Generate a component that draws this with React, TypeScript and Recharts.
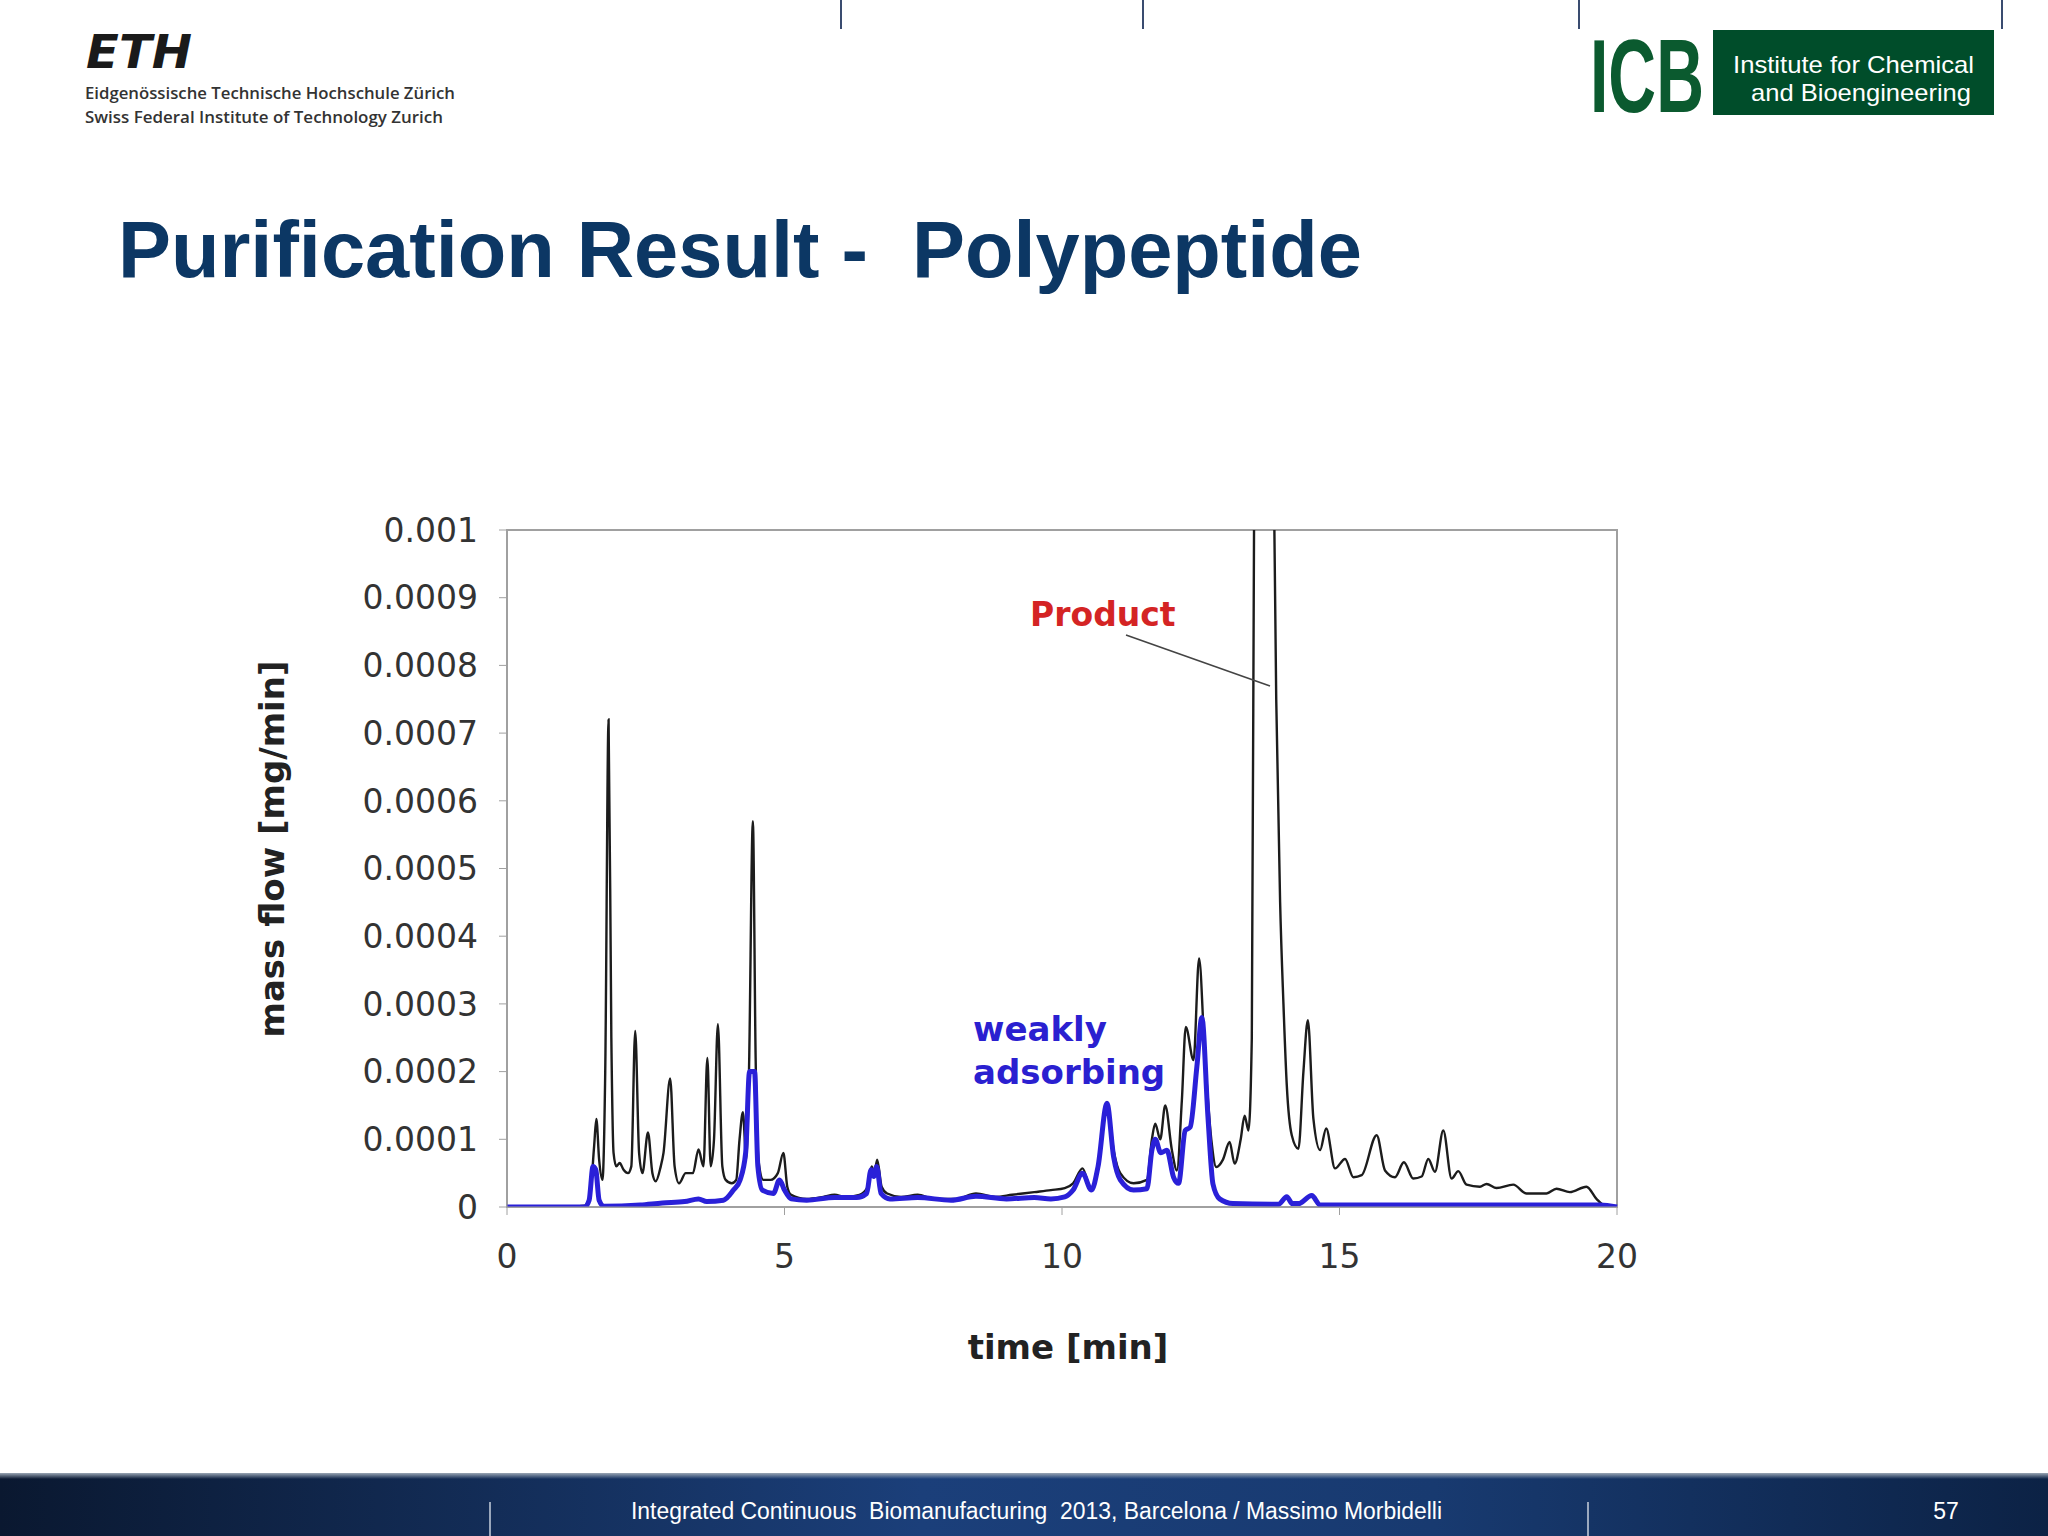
import React from "react";
import {
  LineChart,
  Line,
  XAxis,
  YAxis,
  ReferenceArea,
} from "recharts";

// total mass flow (black trace)
const productTime = [
  0, 1.0, 1.4, 1.5, 1.57, 1.61, 1.66, 1.72, 1.77, 1.83, 1.88, 1.92, 1.97, 2.03, 2.1, 2.18, 2.24, 2.31,
  2.38, 2.44, 2.54, 2.62, 2.68, 2.77, 2.82, 2.94, 3.02, 3.1, 3.22, 3.35, 3.45, 3.54, 3.61, 3.67, 3.73,
  3.8, 3.88, 3.94, 4.05, 4.13, 4.19, 4.25, 4.31, 4.36, 4.43, 4.48, 4.53, 4.62, 4.75, 4.88, 4.98, 5.05,
  5.12, 5.4, 5.7, 5.9, 6.1, 6.35, 6.5, 6.57, 6.62, 6.67, 6.75, 6.85, 7.1, 7.4, 7.7, 8.1, 8.45, 8.8,
  9.1, 9.5, 9.8, 10.05, 10.2, 10.37, 10.52, 10.65, 10.81, 10.93, 11.05, 11.29, 11.53, 11.62, 11.68,
  11.77, 11.86, 11.98, 12.07, 12.16, 12.23, 12.37, 12.47, 12.57, 12.69, 12.78, 12.9, 13.02, 13.11,
  13.22, 13.29, 13.36, 13.42, 13.47, 13.6, 13.8, 13.86, 13.93, 13.99, 14.05, 14.14, 14.26, 14.35,
  14.43, 14.53, 14.65, 14.76, 14.92, 15.1, 15.25, 15.4, 15.67, 15.82, 16.0, 16.16, 16.33, 16.48, 16.6,
  16.72, 16.87, 17.02, 17.14, 17.29, 17.53, 17.65, 17.83, 18.13, 18.37, 18.73, 18.91, 19.15, 19.45,
  19.63, 19.78, 20.0,
];
const productFlow = [
  0, 0, 0.000002, 0.00002, 0.00009, 0.00013, 0.00007, 0.00004, 0.0002, 0.00072, 0.00025, 0.00008,
  0.00006, 0.000065, 0.000055, 0.00005, 0.00006, 0.00026, 0.00008, 0.00005, 0.00011, 0.00005,
  0.000038, 0.00006, 0.00008, 0.00019, 0.00006, 0.000035, 0.00005, 0.00005, 0.000085, 0.00006,
  0.00022, 0.00006, 0.0001, 0.00027, 0.00006, 0.00004, 0.000035, 0.00004, 0.0001, 0.00014, 0.00007,
  0.0002, 0.00057, 0.00022, 0.00007, 0.00004, 0.00004, 0.00005, 0.00008, 0.00003, 0.000018,
  0.000012, 0.000015, 0.000018, 0.000015, 0.000018, 0.00003, 0.00006, 0.00005, 0.00007, 0.00003,
  0.00002, 0.000015, 0.000018, 0.000012, 0.000012, 0.00002, 0.000015, 0.000018, 0.000022, 0.000025,
  0.000028, 0.000035, 0.000057, 0.000027, 0.00006, 0.000155, 0.000084, 0.00005, 0.000035, 0.00004,
  0.0001, 0.000123, 0.0001, 0.00015, 0.000084, 0.000054, 0.000158, 0.000266, 0.000217, 0.000367,
  0.00023, 0.0001, 0.000059, 0.00007, 0.000096, 0.000064, 0.0001, 0.000135, 0.000113, 0.00025,
  0.0012, 0.0018, 0.0012, 0.00075, 0.00045, 0.0003, 0.00018, 0.000106, 0.000086, 0.0002, 0.000276,
  0.00013, 0.000084, 0.000116, 0.000057, 0.000071, 0.000044, 0.000047, 0.000106, 0.000054, 0.000044,
  0.000066, 0.000042, 0.000045, 0.000071, 0.000052, 0.000113, 0.000042, 0.000053, 0.000033, 0.00003,
  0.000034, 0.000028, 0.000033, 0.00002, 0.00002, 0.000027, 0.000022, 0.00003, 0.000012, 0.000002, 0,
];

// weakly adsorbing fraction (blue trace)
const weakTime = [
  0, 1.4, 1.48, 1.55, 1.6, 1.66, 1.75, 2.4, 2.8, 3.2, 3.45, 3.6, 3.9, 4.08, 4.2, 4.3, 4.37, 4.46, 4.52,
  4.6, 4.8, 4.91, 5.0, 5.12, 5.4, 5.9, 6.3, 6.48, 6.56, 6.61, 6.66, 6.74, 6.9, 7.4, 8.0, 8.45, 9.0, 9.5,
  9.8, 10.05, 10.2, 10.37, 10.53, 10.65, 10.81, 10.93, 11.05, 11.29, 11.53, 11.62, 11.68, 11.78, 11.89,
  12.01, 12.1, 12.22, 12.31, 12.43, 12.52, 12.63, 12.72, 12.84, 13.08, 13.9, 14.05, 14.15, 14.26, 14.5,
  14.65, 19.7, 20.0,
];
const weakFlow = [
  0, 0, 0.00001, 0.00006, 0.000055, 0.00001, 0.000001, 0.000003, 0.000006, 0.000008, 0.000012,
  0.000008, 0.00001, 0.000025, 0.00004, 0.00008, 0.0002, 0.0002, 0.00006, 0.000025, 0.00002, 0.00004,
  0.000025, 0.000012, 0.00001, 0.000014, 0.000014, 0.00002, 0.000055, 0.000045, 0.00006, 0.00002,
  0.000012, 0.000014, 0.00001, 0.000016, 0.000012, 0.000014, 0.000012, 0.000015, 0.000025, 0.00005,
  0.000025, 0.00006, 0.000153, 0.000074, 0.00004, 0.000025, 0.000027, 0.000084, 0.0001, 0.00008,
  0.000084, 0.000044, 0.000035, 0.000113, 0.000118, 0.000207, 0.00028, 0.000133, 0.000034, 0.000012,
  0.000005, 0.000004, 0.000015, 0.000005, 0.000005, 0.000017, 0.000003, 0.000003, 0,
];

const xTicks = [0, 5, 10, 15, 20];
const yTicks = [0, 0.0001, 0.0002, 0.0003, 0.0004, 0.0005, 0.0006, 0.0007, 0.0008, 0.0009, 0.001];

const productData = productTime.map((t, i) => ({ t, v: productFlow[i] }));
const weakData = weakTime.map((t, i) => ({ t, v: weakFlow[i] }));

const W = 2048;
const H = 1536;
const tickFont = { fontFamily: "DejaVu Sans", fontSize: 33, fill: "#333333" };

function SlideBackground() {
  return (
    <svg width={W} height={H} style={{ position: "absolute", left: 0, top: 0 }}>
      <defs>
        <linearGradient id="foot" x1="0" y1="0" x2="1" y2="0">
          <stop offset="0" stopColor="#0a1830" />
          <stop offset="0.45" stopColor="#1b3f7a" />
          <stop offset="0.7" stopColor="#183a70" />
          <stop offset="1" stopColor="#0c2245" />
        </linearGradient>
        <linearGradient id="footTop" x1="0" y1="0" x2="0" y2="1">
          <stop offset="0" stopColor="#9aa6b4" />
          <stop offset="1" stopColor="#9aa6b4" stopOpacity="0" />
        </linearGradient>
      </defs>
      <rect width={W} height={H} fill="#ffffff" />

      {/* top separators */}
      {[841, 1143, 1579, 2002].map((x) => (
        <line key={x} x1={x} y1={0} x2={x} y2={29} stroke="#3a4c70" strokeWidth={2} />
      ))}

      {/* ETH */}
      <text x={86} y={68} fontFamily="DejaVu Sans" fontWeight="bold" fontStyle="italic" fontSize={46}
        textLength={106} lengthAdjust="spacingAndGlyphs" fill="#1a1a1a">ETH</text>
      <text x={85} y={99} fontFamily="Open Sans" fontWeight={600} fontSize={17} fill="#333"
        textLength={370} lengthAdjust="spacingAndGlyphs">Eidgenössische Technische Hochschule Zürich</text>
      <text x={85} y={123} fontFamily="Open Sans" fontWeight={600} fontSize={17} fill="#333"
        textLength={358} lengthAdjust="spacingAndGlyphs">Swiss Federal Institute of Technology Zurich</text>

      {/* ICB */}
      <text transform="translate(1590,112) scale(0.636,1)" fontFamily="Liberation Sans" fontWeight="bold"
        fontSize={104} fill="#0b5a2f">ICB</text>
      <rect x={1713} y={30} width={281} height={85} fill="#004d2a" />
      <text x={1733} y={73} fontFamily="Liberation Sans" fontSize={24} fill="#ffffff"
        textLength={241} lengthAdjust="spacingAndGlyphs">Institute for Chemical</text>
      <text x={1751} y={101} fontFamily="Liberation Sans" fontSize={24} fill="#ffffff"
        textLength={220} lengthAdjust="spacingAndGlyphs">and Bioengineering</text>

      {/* title */}
      <text x={118} y={277} fontFamily="Liberation Sans" fontWeight="bold" fontSize={79.4} fill="#0c3764"
        style={{ whiteSpace: "pre" }}>Purification Result -  Polypeptide</text>

      {/* footer */}
      <rect x={0} y={1473} width={W} height={63} fill="url(#foot)" />
      <rect x={0} y={1473} width={W} height={6} fill="url(#footTop)" />
      <line x1={490} y1={1502} x2={490} y2={1536} stroke="#c8d0dc" strokeWidth={1.5} />
      <line x1={1588} y1={1502} x2={1588} y2={1536} stroke="#c8d0dc" strokeWidth={1.5} />
      <text x={631} y={1519} fontFamily="Liberation Sans" fontSize={23} fill="#ffffff"
        textLength={811} lengthAdjust="spacingAndGlyphs" style={{ whiteSpace: "pre" }}>
        Integrated Continuous  Biomanufacturing  2013, Barcelona / Massimo Morbidelli
      </text>
      <text x={1946} y={1519} textAnchor="middle" fontFamily="Liberation Sans" fontSize={23} fill="#ffffff">57</text>
    </svg>
  );
}

function Annotations() {
  return (
    <svg width={W} height={H} style={{ position: "absolute", left: 0, top: 0, pointerEvents: "none" }}>
      <text x={1030} y={626} fontFamily="DejaVu Sans" fontWeight="bold" fontSize={33} fill="#d42424">Product</text>
      <line x1={1126} y1={635} x2={1270} y2={686} stroke="#444" strokeWidth={1.6} />
      <text x={973} y={1041} fontFamily="DejaVu Sans" fontWeight="bold" fontSize={34} fill="#2a20d0">weakly</text>
      <text x={973} y={1084} fontFamily="DejaVu Sans" fontWeight="bold" fontSize={34} fill="#2a20d0">adsorbing</text>
      <text x={1068} y={1359} textAnchor="middle" fontFamily="DejaVu Sans" fontWeight="bold" fontSize={34} fill="#222">
        time [min]
      </text>
      <text transform="translate(284,849) rotate(-90)" textAnchor="middle" fontFamily="DejaVu Sans" fontWeight="bold"
        fontSize={34} fill="#222">mass flow [mg/min]</text>
    </svg>
  );
}

export default function App() {
  return (
    <div style={{ position: "absolute", left: 0, top: 0, width: W, height: H, overflow: "hidden" }}>
      <SlideBackground />
      <div style={{ position: "absolute", left: 0, top: 0 }}>
        <LineChart width={W} height={H} margin={{ top: 530, right: 431, bottom: 269, left: 347 }}>
          <XAxis
            type="number"
            dataKey="t"
            domain={[0, 20]}
            ticks={xTicks}
            height={60}
            stroke="#a0a0a0"
            tickSize={8}
            tickMargin={30}
            tick={tickFont}
          />
          <YAxis
            type="number"
            dataKey="v"
            domain={[0, 0.001]}
            allowDataOverflow
            ticks={yTicks}
            width={160}
            stroke="#a0a0a0"
            tickSize={8}
            tickMargin={21}
            tick={tickFont}
            tickFormatter={(v: number) => String(v)}
          />
          <ReferenceArea x1={0} x2={20} y1={0} y2={0.001} fill="none" stroke="#a0a0a0" strokeWidth={2} />
          <Line
            data={productData}
            dataKey="v"
            type="monotone"
            stroke="#1c1c1c"
            strokeWidth={2.4}
            dot={false}
            activeDot={false}
            isAnimationActive={false}
          />
          <Line
            data={weakData}
            dataKey="v"
            type="monotone"
            stroke="#2a20d8"
            strokeWidth={5}
            strokeLinejoin="round"
            dot={false}
            activeDot={false}
            isAnimationActive={false}
          />
        </LineChart>
      </div>
      <Annotations />
    </div>
  );
}
